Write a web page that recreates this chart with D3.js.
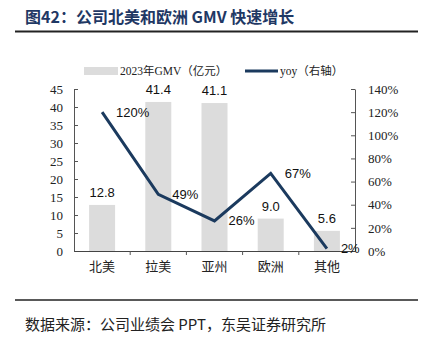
<!DOCTYPE html>
<html>
<head>
<meta charset="utf-8">
<script src="https://cdnjs.cloudflare.com/ajax/libs/d3/7.8.5/d3.min.js"></script>
<style>
  body { margin: 0; background: #fff; }
  svg { display: block; }
</style>
</head>
<body>
<div id="chart"></div>
<script>
// regions, GMV (100m yuan) and year-on-year growth
var regions = ["北美", "拉美", "亚州", "欧洲", "其他"];
var gmv = [12.8, 41.4, 41.1, 9.0, 5.6];
var yoy = [120, 49, 26, 67, 2];
var leftTicks = [0, 5, 10, 15, 20, 25, 30, 35, 40, 45];
var rightTicks = [0, 20, 40, 60, 80, 100, 120, 140];

var W = 429, H = 339;
var plot = {left: 74, right: 355, top: 89, bottom: 251};
var serif = "'Liberation Serif', 'Noto Sans CJK SC', serif";
var cjk = "'Noto Sans CJK SC', serif";
var sans = "'Liberation Sans', Arial, sans-serif";
var navy = "#1b3a5e";

var svg = d3.select("#chart").append("svg")
  .attr("width", W).attr("height", H);

// header
svg.append("text")
  .attr("x", 25).attr("y", 23)
  .attr("fill", "#1f3864")
  .attr("font-family", cjk)
  .attr("font-weight", "bold")
  .attr("font-size", 16)
  .text("图42：公司北美和欧洲 GMV 快速增长");
svg.append("line")
  .attr("x1", 15).attr("x2", 418).attr("y1", 31.5).attr("y2", 31.5)
  .attr("stroke", "#222").attr("stroke-width", 2);

// footer
svg.append("line")
  .attr("x1", 15).attr("x2", 418).attr("y1", 300).attr("y2", 300)
  .attr("stroke", "#222").attr("stroke-width", 1.5);
svg.append("text")
  .attr("x", 25).attr("y", 330)
  .attr("fill", "#222")
  .attr("font-family", cjk)
  .attr("font-size", 15)
  .text("数据来源：公司业绩会 PPT，东吴证券研究所");

var xb = d3.scaleBand().domain(regions).range([plot.left, plot.right]);
var yL = d3.scaleLinear().domain([0, 45]).range([plot.bottom, plot.top]);
var yR = d3.scaleLinear().domain([0, 140]).range([plot.bottom, plot.top]);

// bars
svg.selectAll("rect.bar").data(gmv).enter().append("rect")
  .attr("class", "bar")
  .attr("x", function(d, i) { return xb(regions[i]) + xb.bandwidth() / 2 - 13; })
  .attr("width", 26)
  .attr("y", function(d) { return yL(d); })
  .attr("height", function(d) { return plot.bottom - yL(d); })
  .attr("fill", "#dcdcdc");

svg.selectAll("text.barlab").data(gmv).enter().append("text")
  .attr("class", "barlab")
  .attr("x", function(d, i) { return xb(regions[i]) + xb.bandwidth() / 2; })
  .attr("y", function(d) { return yL(d) - 8; })
  .attr("text-anchor", "middle")
  .attr("font-family", sans)
  .attr("font-size", 13)
  .attr("fill", "#111")
  .text(function(d) { return d.toFixed(1); });

// left axis
var axL = svg.append("g")
  .attr("transform", "translate(" + plot.left + ",0)")
  .call(d3.axisLeft(yL).tickValues(leftTicks).tickSizeInner(-4).tickSizeOuter(0).tickPadding(11));
axL.select(".domain").attr("stroke", "#555");
axL.selectAll(".tick line").attr("stroke", "#555");
axL.selectAll("text").attr("font-family", serif).attr("font-size", 13).attr("fill", "#222");

// right axis
var axR = svg.append("g")
  .attr("transform", "translate(" + plot.right + ",0)")
  .call(d3.axisRight(yR).tickValues(rightTicks).tickSizeInner(-4).tickSizeOuter(0).tickPadding(13)
    .tickFormat(function(d) { return d + "%"; }));
axR.select(".domain").attr("stroke", "#555");
axR.selectAll(".tick line").attr("stroke", "#555");
axR.selectAll("text").attr("font-family", serif).attr("font-size", 13).attr("fill", "#222");

// bottom axis
var axB = svg.append("g")
  .attr("transform", "translate(0," + plot.bottom + ")")
  .call(d3.axisBottom(xb).tickSize(0).tickPadding(11));
axB.select(".domain").attr("stroke", "#444");
axB.selectAll("text").attr("font-family", cjk).attr("font-size", 13).attr("fill", "#222");
svg.selectAll("line.sep").data(regions.slice(1)).enter().append("line")
  .attr("class", "sep")
  .attr("x1", function(d) { return xb(d); }).attr("x2", function(d) { return xb(d); })
  .attr("y1", plot.bottom).attr("y2", plot.bottom + 4)
  .attr("stroke", "#555");

// yoy line
var line = d3.line()
  .x(function(d, i) { return xb(regions[i]) + xb.bandwidth() / 2; })
  .y(function(d) { return yR(d); });
svg.append("path").datum(yoy)
  .attr("d", line)
  .attr("fill", "none")
  .attr("stroke", navy)
  .attr("stroke-width", 3);

svg.selectAll("text.yoylab").data(yoy).enter().append("text")
  .attr("class", "yoylab")
  .attr("x", function(d, i) { return xb(regions[i]) + xb.bandwidth() / 2 + 14; })
  .attr("y", function(d) { return yR(d); })
  .attr("dy", "0.35em")
  .attr("font-family", sans)
  .attr("font-size", 13)
  .attr("fill", "#111")
  .text(function(d) { return d + "%"; });

// legend
var lg = svg.append("g").attr("transform", "translate(0,71)");
lg.append("rect").attr("x", 84).attr("y", -4).attr("width", 34).attr("height", 8).attr("fill", "#dcdcdc");
lg.append("text").attr("x", 120).attr("y", 0).attr("dy", "0.35em")
  .attr("font-family", serif).attr("font-size", 11.5).attr("fill", "#222")
  .text("2023年GMV（亿元）");
lg.append("line").attr("x1", 245).attr("x2", 278).attr("y1", 0).attr("y2", 0)
  .attr("stroke", navy).attr("stroke-width", 3);
lg.append("text").attr("x", 280).attr("y", 0).attr("dy", "0.35em")
  .attr("font-family", serif).attr("font-size", 11.5).attr("fill", "#222")
  .text("yoy（右轴）");
</script>
</body>
</html>
